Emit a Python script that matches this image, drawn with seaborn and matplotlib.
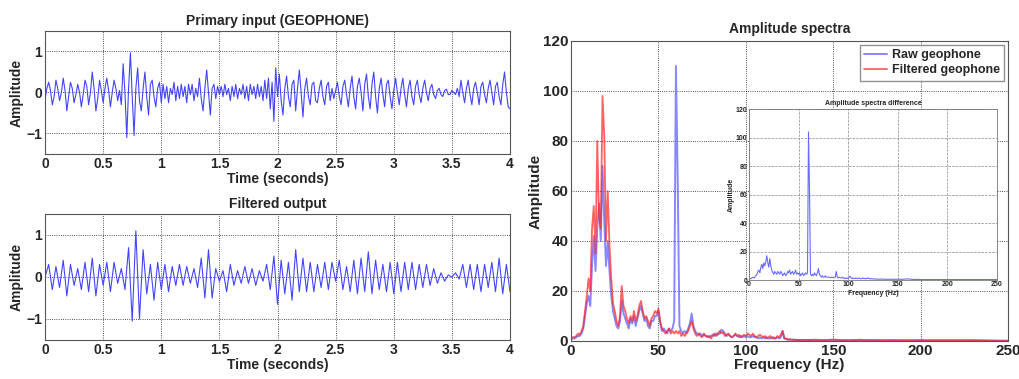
import numpy as np
import pandas as pd
import seaborn as sns
import matplotlib.pyplot as plt

sns.set_theme(style="white")
plt.rcParams['font.family'] = ['Liberation Sans', 'DejaVu Sans']
plt.rcParams['font.weight'] = 'bold'

primary_vals = [
    -0.15, 0.1, 0.25, 0.05, -0.3, -0.1, 0.3, 0.1, -0.2, 0.0, 0.35, 0.05, -0.45, -0.1, 0.25, 0.1,
    -0.25, -0.05, 0.2, 0.0, -0.35, -0.05, 0.3, 0.15, -0.3, 0.0, 0.5, 0.1, -0.45, -0.15, 0.3, 0.05, -0.25,
    0.1, 0.35, 0.05, -0.35, 0.0, 0.3, 0.1, -0.2, 0.05, -0.3, 0.7, 0.0, -1.1, 0.1, 0.97, -0.1,
    -1.05, 0.1, 0.6, -0.2, -0.45, 0.1, 0.5, -0.1, -0.55, 0.2, 0.3, -0.1, -0.35, 0.1, 0.25, -0.25,
    0.2, -0.15, 0.15, -0.25, 0.1, -0.05, 0.25, -0.2, 0.15, -0.15, 0.2, -0.1, 0.15, -0.25, 0.2, -0.05,
    0.2, -0.2, 0.1, -0.1, 0.35, -0.15, -0.45, 0.1, 0.55, 0.0, -0.55, 0.1, 0.2, -0.15, 0.15, -0.05,
    0.15, -0.1, 0.2, -0.05, 0.1, -0.2, 0.15, -0.1, 0.2, -0.15, 0.1, -0.05, 0.2, -0.15, 0.15, -0.2,
    0.2, -0.05, 0.15, -0.15, 0.2, -0.1, 0.15, -0.2, 0.3, -0.15, 0.35, -0.4, 0.25, -0.7, 0.6, -0.1,
    0.45, -0.2, -0.55, 0.1, 0.4, -0.1, -0.35, 0.2, 0.3, -0.45, 0.1, 0.55, 0.0, -0.6, 0.1, 0.35,
    -0.1, -0.3, 0.2, 0.25, -0.2, -0.25, 0.1, 0.3, -0.1, -0.3, 0.15, 0.25, -0.2, 0.1, -0.15, 0.05,
    0.25, -0.1, -0.3, 0.15, 0.3, -0.05, -0.35, 0.1, 0.4, -0.1, -0.4, 0.15, 0.35, 0.0, -0.45, 0.2,
    0.45, -0.1, -0.4, 0.2, 0.5, -0.1, -0.5, 0.1, 0.35, -0.05, -0.35, 0.2, 0.3, -0.1, -0.4, 0.05,
    0.35, 0.0, -0.3, 0.1, 0.35, -0.05, -0.35, 0.1, 0.3, -0.1, -0.3, 0.15, 0.3, -0.05, -0.25, 0.1,
    0.3, 0.0, -0.2, 0.1, 0.2, -0.05, -0.15, 0.05, 0.1, -0.05, -0.1, 0.05, 0.08, -0.05, -0.05, 0.05,
    0.0, -0.05, 0.1, -0.1, 0.3, 0.0, -0.25, 0.1, 0.3, -0.05, -0.3, 0.1, 0.25, 0.0, -0.3, 0.15,
    0.25, -0.05, -0.25, 0.1, 0.3, 0.0, -0.3, 0.15, 0.25, -0.1, -0.3, 0.2, 0.5, 0.0, -0.35, -0.4,
]

# filtered output, sampled every 1/32 s
filtered_vals = [
    0.0, 0.3, -0.3, 0.25, -0.25, 0.4, -0.45, 0.3, -0.2, 0.2, -0.3, 0.35, -0.35, 0.45, -0.45, 0.3, -0.2,
    0.35, -0.35, 0.35, -0.15, 0.2, -0.3, 0.7, -1.05, 1.1, -1.0, 0.65, -0.4, 0.3, -0.55, 0.35, -0.3,
    0.3, -0.35, 0.25, -0.2, 0.3, -0.2, 0.25, -0.15, 0.2, -0.25, 0.45, -0.5, 0.65, -0.5, 0.2, -0.1,
    0.15, -0.35, 0.3, -0.2, 0.15, -0.15, 0.25, -0.15, 0.2, -0.2, 0.15, -0.1, 0.3, -0.3, 0.5, -0.65,
    0.4, -0.4, 0.35, -0.55, 0.65, -0.35, 0.45, -0.35, 0.35, -0.35, 0.3, -0.25, 0.35, -0.3, 0.35, -0.1,
    0.4, -0.3, 0.25, -0.35, 0.4, -0.4, 0.45, -0.35, 0.6, -0.4, 0.4, -0.3, 0.3, -0.35, 0.35, -0.4,
    0.35, -0.35, 0.35, -0.3, 0.35, -0.3, 0.3, -0.25, 0.3, -0.2, 0.2, -0.15, 0.1, -0.1, 0.05, 0.0,
    0.1, -0.05, 0.3, -0.25, 0.3, -0.3, 0.3, -0.35, 0.3, -0.25, 0.35, -0.35, 0.45, -0.4, 0.3, -0.35,
]
t_primary = np.linspace(0, 4, len(primary_vals))
t_filtered = np.linspace(0, 4, len(filtered_vals))

# amplitude spectra: 1 Hz steps up to 130 Hz, then 5 Hz steps
freq = np.concatenate([np.arange(0, 131), np.arange(135, 251, 5)])
raw_spec = [
    0.5, 1, 1, 1.5, 2, 2, 3, 5, 10, 15,
    18, 14, 30, 42, 28, 45, 55, 40, 70, 48,
    30, 40, 28, 18, 12, 9, 6, 5, 8, 16,
    11, 9, 7, 5, 9, 7, 10, 6, 9, 12,
    14, 11, 8, 9, 6, 5, 8, 8, 10, 10,
    12, 7, 4, 5, 4, 3, 5, 4, 5, 8,
    110, 65, 6, 4, 3, 4, 3, 5, 7, 11,
    6, 4, 3, 2.5, 3, 2, 2.5, 2, 2, 1.5,
    2, 2.5, 2, 3, 2.5, 3, 4.5, 4, 3, 2,
    2.5, 2, 1.5, 2, 2.5, 2, 1.5, 2, 1.5, 2,
    1.5, 2, 1.5, 1.5, 2, 1.5, 1.5, 1, 1.5, 1,
    1.5, 1, 1.5, 1, 1, 1.5, 1, 1, 1.5, 1,
    1.5, 4, 1, 0.8, 0.6, 0.5, 0.5, 0.4, 0.5, 0.4, 0.4,
    0.4, 0.3, 0.3, 0.3, 0.3, 0.3, 0.3, 0.3, 0.3, 0.3, 0.3, 0.3,
    0.3, 0.3, 0.3, 0.3, 0.3, 0.3, 0.3, 0.3, 0.3, 0.2, 0.1, 0.1,
]
filt_spec = [
    1, 1.5, 1.5, 2, 3, 2.5, 4, 6, 12, 18,
    25, 20, 45, 54, 35, 80, 50, 45, 98, 82,
    40, 60, 38, 25, 15, 12, 8, 6, 10, 22,
    14, 12, 9, 7, 10, 8, 12, 8, 10, 14,
    16, 12, 9, 10, 8, 6, 9, 10, 12, 11,
    13, 8, 5, 4, 3, 4, 5, 3, 4, 3,
    4, 3, 4, 2, 3, 2, 3, 4, 6, 8,
    5, 3, 2, 3, 2, 1.5, 3, 2, 1.5, 2,
    1, 2, 3, 2, 3, 4, 3, 3.5, 2, 2.5,
    3, 2, 1.5, 2, 3, 2, 2.5, 1.5, 2, 2.5,
    2, 3, 2.5, 2, 3, 2, 1.5, 2, 2.5, 2,
    1.5, 2, 1, 1.5, 2, 1, 1.5, 1, 2, 1.5,
    2.5, 4, 1, 1, 0.5, 0.8, 0.5, 0.6, 0.4, 0.5, 0.4,
    0.4, 0.5, 0.3, 0.6, 0.3, 0.3, 0.5, 0.3, 0.3, 0.2, 0.3, 0.2,
    0.2, 0.3, 0.2, 0.2, 0.2, 0.2, 0.2, 0.2, 0.1, 0.1, 0.1, 0.1,
]
diff_spec = [
    0.5, 1, 1, 1.5, 2, 1.5, 2, 3, 4, 6,
    7, 5, 9, 11, 8, 12, 10, 13, 17, 12,
    9, 15, 10, 7, 5, 4, 6, 5, 4, 6,
    5, 4, 6, 5, 3, 4, 5, 3, 4, 6,
    5, 7, 4, 5, 6, 4, 5, 7, 4, 5,
    4, 5, 3, 4, 5, 3, 4, 5, 4, 5,
    104, 64, 4, 3, 4, 3, 5, 4, 3, 5,
    8, 4, 3, 2, 3, 2, 2, 3, 2, 2,
    2, 2, 1.5, 2, 2, 1.5, 2, 2, 6, 2,
    1.5, 2, 1.5, 1.5, 2, 1.5, 1, 1.5, 1, 1.5,
    1, 2, 2.5, 1.5, 1, 1.5, 1, 1, 1.5, 1,
    1, 1.5, 1, 1, 1, 1.5, 1, 1, 1, 1,
    1.5, 1, 0.8, 1, 0.8, 0.8, 0.8, 0.6, 0.8, 0.6, 0.6,
    0.6, 0.5, 0.5, 0.6, 0.5, 0.8, 0.4, 0.4, 0.3, 0.3, 0.3, 0.3,
    0.3, 0.3, 0.3, 0.3, 0.3, 0.3, 0.3, 0.3, 0.3, 0.3, 0.3, 0.3,
]

fig = plt.figure(figsize=(10.19, 3.79), dpi=100)
ax_top = fig.add_axes([0.0442, 0.5937, 0.4563, 0.3245])
ax_bot = fig.add_axes([0.0442, 0.1029, 0.4563, 0.3325])
ax_spec = fig.add_axes([0.5604, 0.1003, 0.4289, 0.7916])
ax_in = fig.add_axes([0.7350, 0.2612, 0.2434, 0.4512])

grid_kw = dict(color="k", linestyle=":", linewidth=0.6)

# time traces
for ax, t, y, title in [(ax_top, t_primary, primary_vals, "Primary input (GEOPHONE)"),
                        (ax_bot, t_filtered, filtered_vals, "Filtered output")]:
    sns.lineplot(x=t, y=y, ax=ax, color="#4444ff", linewidth=0.8, estimator=None, sort=False)
    ax.set_xlim(0, 4)
    ax.set_ylim(-1.5, 1.5)
    ax.set_xticks([0, 0.5, 1, 1.5, 2, 2.5, 3, 3.5, 4])
    ax.set_xticklabels(["0", "0.5", "1", "1.5", "2", "2.5", "3", "3.5", "4"])
    ax.set_yticks([-1, 0, 1])
    ax.grid(True, **grid_kw)
    ax.set_title(title, fontsize=10, fontweight="bold", pad=4)
    ax.set_xlabel("Time (seconds)", fontsize=10, fontweight="bold", labelpad=1)
    ax.set_ylabel("Amplitude", fontsize=10, fontweight="bold", labelpad=2)
    ax.tick_params(labelsize=10, pad=2, length=0)
    for s in ax.spines.values():
        s.set_color("#555555")
        s.set_linewidth(0.8)

# amplitude spectra
sns.lineplot(x=freq, y=raw_spec, ax=ax_spec, color="#6a6aff", linewidth=1.4, alpha=0.8,
             estimator=None, sort=False, label="Raw geophone")
sns.lineplot(x=freq, y=filt_spec, ax=ax_spec, color="#ff2020", linewidth=1.3, alpha=0.7,
             estimator=None, sort=False, label="Filtered geophone")
ax_spec.set_xlim(0, 250)
ax_spec.set_ylim(0, 120)
ax_spec.set_xticks(range(0, 251, 50))
ax_spec.set_yticks(range(0, 121, 20))
ax_spec.grid(True, **grid_kw)
ax_spec.set_title("Amplitude spectra", fontsize=10, fontweight="bold", pad=6)
ax_spec.set_xlabel("Frequency (Hz)", fontsize=11, fontweight="bold", labelpad=0)
ax_spec.set_ylabel("Amplitude", fontsize=11, fontweight="bold", labelpad=0)
ax_spec.tick_params(labelsize=11, pad=2, length=0)
for s in ax_spec.spines.values():
    s.set_color("#555555")
    s.set_linewidth(0.8)
leg = ax_spec.legend(loc="upper right", fontsize=9, frameon=True, fancybox=False,
                     borderaxespad=0.3, handlelength=1.8, handletextpad=0.4,
                     borderpad=0.35, labelspacing=0.25)
leg.get_frame().set_edgecolor("#777777")
for txt in leg.get_texts():
    txt.set_fontweight("bold")

# inset: spectra difference
sns.lineplot(x=freq, y=diff_spec, ax=ax_in, color="#6a6aff", linewidth=0.8,
             estimator=None, sort=False)
ax_in.set_xlim(0, 250)
ax_in.set_ylim(0, 120)
ax_in.set_xticks(range(0, 251, 50))
ax_in.set_yticks(range(0, 121, 20))
ax_in.grid(True, color="#888888", linestyle="--", linewidth=0.5)
ax_in.set_title("Amplitude spectra difference", fontsize=5, fontweight="bold", pad=3)
ax_in.set_xlabel("Frequency (Hz)", fontsize=5, fontweight="bold", labelpad=1)
ax_in.set_ylabel("Amplitude", fontsize=5, fontweight="bold", labelpad=1)
ax_in.tick_params(labelsize=5, pad=1, length=0)
for s in ax_in.spines.values():
    s.set_color("#777777")
    s.set_linewidth(0.6)

fig.savefig("out.png", dpi=100)
